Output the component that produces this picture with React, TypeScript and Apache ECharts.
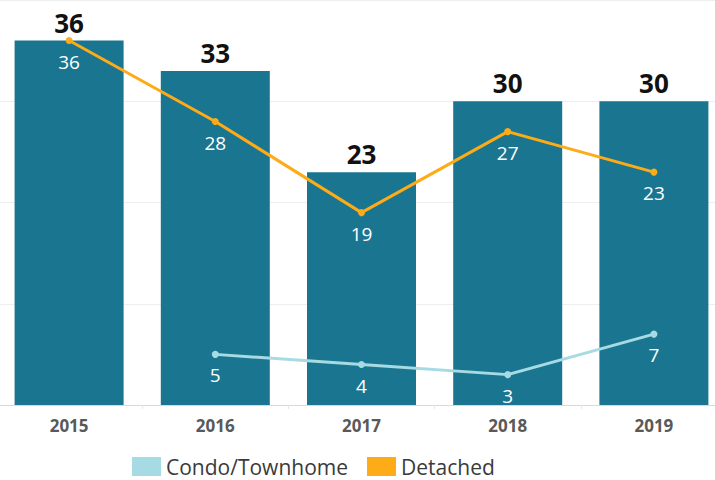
import React, { useEffect, useRef } from "react";
import * as echarts from "echarts";

const years = ["2015", "2016", "2017", "2018", "2019"];
const totalValues = [36, 33, 23, 30, 30];
const condoValues: (number | null)[] = [null, 5, 4, 3, 7];
const detachedValues = [36, 28, 19, 27, 23];

const FONT = "'Open Sans', Lato, sans-serif";

export default function App() {
  const ref = useRef<HTMLDivElement>(null);
  useEffect(() => {
    if (!ref.current) return;
    const chart = echarts.init(ref.current, null, { renderer: "svg" });
    chart.setOption({
      animation: false,
      grid: { left: -4, width: 731, top: 0, bottom: 75, containLabel: false, outerBoundsMode: "none" },
      legend: {
        top: 454,
        left: 127,
        padding: [2, 5, 2, 5],
        data: ["Condo/Townhome", "Detached"],
        icon: "rect",
        itemWidth: 29,
        itemHeight: 19,
        itemGap: 19,
        textStyle: { fontFamily: FONT, fontSize: 21, lineHeight: 21, color: "#3a3a3a" },
      },
      xAxis: {
        type: "category",
        data: years,
        axisLine: { lineStyle: { color: "#d9d9d9", width: 1 } },
        axisTick: { show: true, lineStyle: { color: "#e6e6e6" }, length: 4 },
        axisLabel: {
          fontFamily: FONT,
          fontSize: 17,
          fontWeight: "bold",
          color: "#595959",
          margin: 12,
        },
      },
      yAxis: {
        type: "value",
        min: 0,
        max: 40,
        interval: 10,
        axisLabel: { show: false },
        axisLine: { show: false },
        axisTick: { show: false },
        splitLine: { lineStyle: { color: "#eeeeee", width: 1 } },
      },
      series: [
        {
          name: "Total",
          type: "bar",
          data: totalValues,
          barWidth: 109,
          itemStyle: { color: "#1a7690" },
          label: {
            show: true,
            position: "top",
            distance: 5,
            fontFamily: FONT,
            fontSize: 26,
            fontWeight: "bold",
            color: "#111111",
          },
          z: 1,
        },
        {
          name: "Detached",
          type: "line",
          data: detachedValues,
          color: "#fdab17",
          lineStyle: { color: "#fdab17", width: 3 },
          itemStyle: { color: "#fdab17" },
          symbol: "circle",
          symbolSize: 7,
          label: {
            show: true,
            position: "bottom",
            distance: 8,
            fontFamily: FONT,
            fontSize: 19,
            color: "#ffffff",
          },
          z: 3,
        },
        {
          name: "Condo/Townhome",
          type: "line",
          data: condoValues,
          color: "#a6dbe4",
          lineStyle: { color: "#a6dbe4", width: 3 },
          itemStyle: { color: "#a6dbe4" },
          symbol: "circle",
          symbolSize: 7,
          connectNulls: false,
          label: {
            show: true,
            position: "bottom",
            distance: 8,
            fontFamily: FONT,
            fontSize: 19,
            color: "#ffffff",
          },
          z: 3,
        },
      ],
    });
    return () => chart.dispose();
  }, []);
  return <div ref={ref} style={{ width: 715, height: 480, position: "absolute", left: 0, top: 0 }} />;
}
